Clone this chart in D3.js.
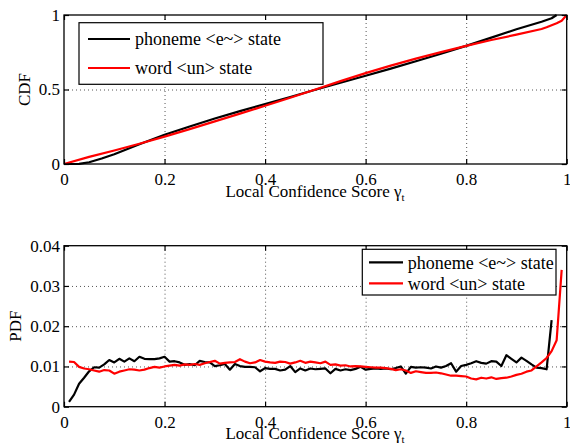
<!doctype html>
<meta charset="utf-8">
<title>CDF / PDF of local confidence score</title>
<style>
    html, body {
        margin: 0;
        background: white;
    }

    svg text {
        font-family: "Liberation Serif", "Times New Roman", Times, serif;
        fill: black;
    }

    .grid line {
        stroke: #555;
        stroke-width: 1;
        stroke-dasharray: 1, 3;
    }

    .grid path {
        display: none;
    }

    .axis line {
        stroke: black;
        stroke-width: 1.2;
    }

    .axis text {
        font-size: 17px;
    }

    .line {
        fill: none;
        stroke-width: 2.2;
        stroke-linejoin: round;
    }

    .legend text {
        font-size: 18px;
    }
</style>
<svg width=570 height=444></svg>
<script src="https://cdn.jsdelivr.net/npm/d3@7/dist/d3.min.js"></script>
<script>
    // series names shown in the legends
    var seriesNames = ['phoneme <e~> state', 'word <un> state'];
    var seriesColors = ['black', '#ff0000'];

    // CDF: [score, cdf]
    var cdfPhoneme = [
        [0, 0], [0.03, 0.001], [0.05, 0.012], [0.075, 0.037], [0.1, 0.066],
        [0.15, 0.132], [0.2, 0.196], [0.25, 0.252], [0.3, 0.305], [0.35, 0.355],
        [0.4, 0.402], [0.45, 0.45], [0.5, 0.498], [0.55, 0.545], [0.6, 0.592],
        [0.65, 0.64], [0.7, 0.69], [0.75, 0.74], [0.8, 0.793], [0.85, 0.848],
        [0.9, 0.904], [0.95, 0.955], [0.97, 0.978], [0.98, 1]
    ];
    var cdfWord = [
        [0, 0], [0.05, 0.048], [0.1, 0.091], [0.15, 0.136], [0.2, 0.184],
        [0.25, 0.234], [0.3, 0.286], [0.35, 0.338], [0.4, 0.391], [0.45, 0.445],
        [0.5, 0.5], [0.55, 0.556], [0.6, 0.61], [0.65, 0.66], [0.7, 0.707],
        [0.75, 0.751], [0.8, 0.793], [0.85, 0.832], [0.9, 0.868], [0.95, 0.906],
        [0.96, 0.918], [0.98, 0.945], [0.99, 0.962], [1, 1]
    ];

    // PDF, one value per 0.01 bin (bins 0.01, 0.02, ...)
    var pdfPhoneme = [
        0.0012, 0.0030, 0.0057, 0.0072, 0.0088, 0.0098, 0.0097, 0.0105, 0.0116, 0.0110,
        0.0119, 0.0112, 0.0120, 0.0113, 0.0124, 0.0119, 0.0118, 0.0118, 0.0120, 0.0124,
        0.0112, 0.0113, 0.0110, 0.0104, 0.0106, 0.0103, 0.0114, 0.0111, 0.0110, 0.0101,
        0.0103, 0.0106, 0.0092, 0.0106, 0.0101, 0.0099, 0.0099, 0.0098, 0.0088, 0.0096,
        0.0094, 0.0094, 0.0090, 0.0092, 0.0101, 0.0086, 0.0095, 0.0090, 0.0095, 0.0093,
        0.0094, 0.0095, 0.0083, 0.0094, 0.0090, 0.0093, 0.0091, 0.0094, 0.0099, 0.0092,
        0.0094, 0.0095, 0.0094, 0.0095, 0.0093, 0.0096, 0.0100, 0.0082, 0.0099, 0.0097,
        0.0098, 0.0097, 0.0095, 0.0100, 0.0097, 0.0101, 0.0108, 0.0087, 0.0101, 0.0104,
        0.0108, 0.0113, 0.0109, 0.0107, 0.0113, 0.0112, 0.0101, 0.0128, 0.0119, 0.0110,
        0.0122, 0.0114, 0.0105, 0.0097, 0.0096, 0.0093, 0.0215
    ];
    var pdfWord = [
        0.0112, 0.0111, 0.0099, 0.0095, 0.0093, 0.0090, 0.0087, 0.0091, 0.0090, 0.0082,
        0.0087, 0.0090, 0.0093, 0.0092, 0.0090, 0.0092, 0.0096, 0.0099, 0.0097, 0.0100,
        0.0102, 0.0104, 0.0102, 0.0105, 0.0104, 0.0106, 0.0104, 0.0108, 0.0111, 0.0114,
        0.0107, 0.0109, 0.0110, 0.0111, 0.0118, 0.0112, 0.0108, 0.0110, 0.0116, 0.0112,
        0.0110, 0.0109, 0.0112, 0.0111, 0.0107, 0.0110, 0.0114, 0.0109, 0.0112, 0.0110,
        0.0108, 0.0112, 0.0104, 0.0105, 0.0102, 0.0103, 0.0100, 0.0101, 0.0100, 0.0099,
        0.0098, 0.0097, 0.0097, 0.0096, 0.0094, 0.0091, 0.0093, 0.0090, 0.0084, 0.0088,
        0.0086, 0.0084, 0.0084, 0.0085, 0.0083, 0.0080, 0.0077, 0.0077, 0.0076, 0.0075,
        0.0070, 0.0068, 0.0072, 0.0070, 0.0073, 0.0069, 0.0071, 0.0072, 0.0075, 0.0079,
        0.0082, 0.0087, 0.0090, 0.0100, 0.0110, 0.0121, 0.0138, 0.0165, 0.0340
    ];

    var xTicks = [0, 0.2, 0.4, 0.6, 0.8, 1];
    var cdfTicks = [0, 0.5, 1];
    var pdfTicks = [0, 0.01, 0.02, 0.03, 0.04];

    var svg = d3.select('svg');
    var left = 64, right = 566.7;

    function binScore(v, i) {
        return [(i + 1) / 100, v];
    }

    function drawPanel(opt) {
        var x = d3.scaleLinear().domain([0, 1]).range([left, right]);
        var y = d3.scaleLinear().domain(opt.domain).range([opt.bottom, opt.top]);
        var h = opt.bottom - opt.top;
        var w = right - left;
        var g = svg.append('g');

        // dotted grid
        g.append('g').attr('class', 'grid')
            .attr('transform', 'translate(0,' + opt.bottom + ')')
            .call(d3.axisBottom(x).tickValues(xTicks.slice(1, -1)).tickSize(-h).tickFormat(''));
        g.append('g').attr('class', 'grid')
            .attr('transform', 'translate(' + left + ',0)')
            .call(d3.axisLeft(y).tickValues(opt.ticks.slice(1, -1)).tickSize(-w).tickFormat(''));

        // lines
        var line = d3.line()
            .x(function (d) { return x(d[0]); })
            .y(function (d) { return y(d[1]); });

        opt.series.forEach(function (s, i) {
            g.append('path')
                .attr('class', 'line')
                .attr('d', line(s))
                .style('stroke', seriesColors[i]);
        });

        // axes, ticks pointing inwards on all four sides
        g.append('g').attr('class', 'axis')
            .attr('transform', 'translate(0,' + opt.bottom + ')')
            .call(d3.axisBottom(x).tickValues(xTicks).tickSize(-5).tickPadding(9).tickFormat(d3.format('')));
        g.append('g').attr('class', 'axis')
            .attr('transform', 'translate(0,' + opt.top + ')')
            .call(d3.axisTop(x).tickValues(xTicks).tickSize(-5).tickFormat(''));
        g.append('g').attr('class', 'axis')
            .attr('transform', 'translate(' + left + ',0)')
            .call(d3.axisLeft(y).tickValues(opt.ticks).tickSize(-5).tickPadding(4).tickFormat(d3.format('')));
        g.append('g').attr('class', 'axis')
            .attr('transform', 'translate(' + right + ',0)')
            .call(d3.axisRight(y).tickValues(opt.ticks).tickSize(-5).tickFormat(''));
        g.selectAll('.axis').attr('font-family', null).attr('font-size', null);
        g.selectAll('.axis .domain').remove();
        g.append('rect')
            .attr('x', left).attr('y', opt.top)
            .attr('width', w).attr('height', h)
            .attr('fill', 'none').attr('stroke', 'black').attr('stroke-width', 1.3);

        // axis titles
        var xt = g.append('text')
            .attr('x', 315).attr('y', opt.xTitleY)
            .attr('text-anchor', 'middle')
            .style('font-size', '17px');
        xt.append('tspan').text('Local Confidence Score \u03b3');
        xt.append('tspan').attr('dy', 4).style('font-size', '11px').text('t');

        g.append('text')
            .attr('transform', 'translate(' + opt.yTitleX + ',' + (opt.top + opt.bottom) / 2 + ') rotate(-90)')
            .attr('text-anchor', 'middle')
            .attr('dy', '0.35em')
            .style('font-size', '17px')
            .text(opt.yTitle);

        // legend
        var lg = g.append('g').attr('class', 'legend');
        var b = opt.legend;
        lg.append('rect')
            .attr('x', b.x).attr('y', b.y)
            .attr('width', b.w).attr('height', b.h)
            .attr('fill', 'white').attr('stroke', 'black').attr('stroke-width', 1.2);
        seriesNames.forEach(function (name, i) {
            var ly = b.rows[i];
            lg.append('line')
                .attr('x1', b.lineX[0]).attr('x2', b.lineX[1])
                .attr('y1', ly).attr('y2', ly)
                .attr('stroke', seriesColors[i]).attr('stroke-width', 2.2);
            lg.append('text')
                .attr('x', b.textX).attr('y', ly)
                .attr('dy', '0.35em')
                .text(name);
        });
    }

    drawPanel({
        top: 15, bottom: 164, domain: [0, 1], ticks: cdfTicks,
        series: [cdfPhoneme, cdfWord],
        xTitleY: 197, yTitle: 'CDF', yTitleX: 24,
        legend: { x: 79, y: 22.7, w: 244, h: 61.6, rows: [39, 68], lineX: [88, 130], textX: 135 }
    });

    drawPanel({
        top: 245.7, bottom: 406.7, domain: [0, 0.04], ticks: pdfTicks,
        series: [pdfPhoneme.map(binScore), pdfWord.map(binScore)],
        xTitleY: 438.5, yTitle: 'PDF', yTitleX: 15,
        legend: { x: 362.3, y: 249.3, w: 193.7, h: 45.7, rows: [262.3, 283.3], lineX: [369, 403], textX: 407.7 }
    });
</script>
